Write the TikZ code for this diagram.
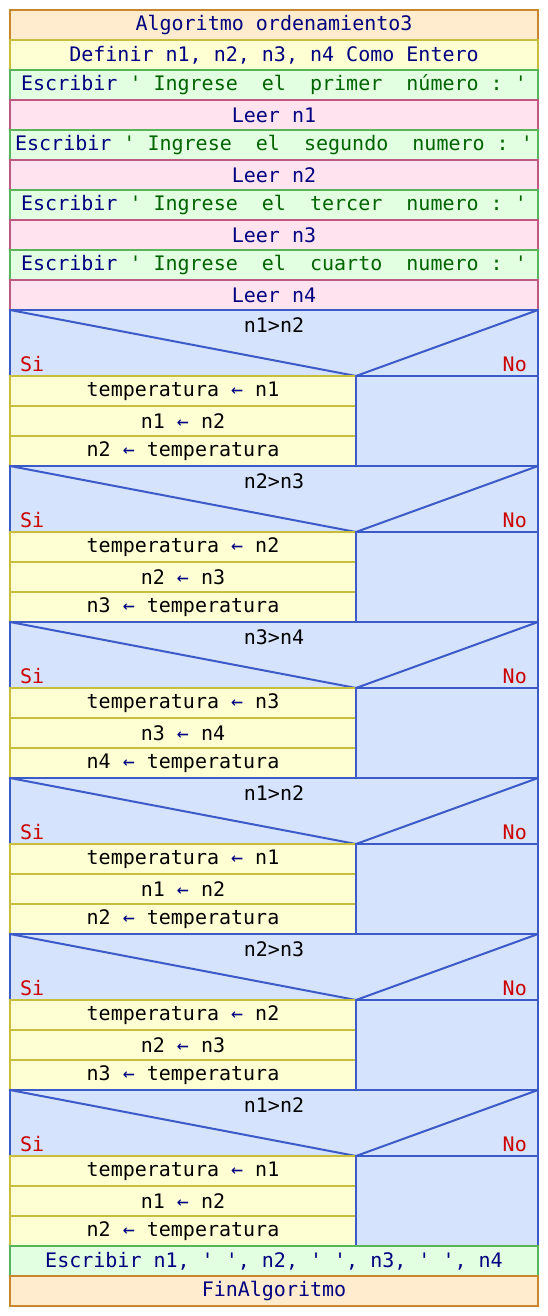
\documentclass[tikz,border=0pt]{standalone}
\usepackage{fontspec}
\setmonofont{DejaVu Sans Mono}
\usetikzlibrary{positioning}

\definecolor{algfill}{RGB}{255,235,205}
\definecolor{algline}{RGB}{200,135,45}
\definecolor{deffill}{RGB}{255,255,212}
\definecolor{defline}{RGB}{200,190,60}
\definecolor{escfill}{RGB}{226,255,226}
\definecolor{escline}{RGB}{90,180,90}
\definecolor{leefill}{RGB}{255,228,240}
\definecolor{leeline}{RGB}{190,90,130}
\definecolor{decfill}{RGB}{213,227,252}
\definecolor{decline}{RGB}{60,90,200}
\definecolor{kwcol}{RGB}{0,0,128}
\definecolor{strcol}{RGB}{0,100,0}
\definecolor{sicol}{RGB}{204,0,0}

\newcommand{\flecha}{{\color{kwcol}←}}
\newcommand{\cad}[1]{{\color{strcol}#1}}

\tikzset{
  row/.style={draw, line width=2pt, minimum width=528pt, minimum height=30pt,
    inner sep=0pt, outer sep=0pt, text=kwcol,
    font=\ttfamily\fontsize{20}{24}\selectfont},
  algbox/.style={row, draw=algline, fill=algfill},
  defbox/.style={row, draw=defline, fill=deffill},
  escbox/.style={row, draw=escline, fill=escfill},
  leebox/.style={row, draw=leeline, fill=leefill},
  asigbox/.style={row, draw=defline, fill=deffill, minimum width=346pt, text=black},
  decbox/.style={draw=decline, line width=2pt, minimum width=528pt, minimum height=66pt,
    inner sep=0pt, outer sep=0pt},
  decedge/.style={draw=decline, line width=2pt},
  condtext/.style={font=\ttfamily\fontsize{20}{24}\selectfont, text=black, inner sep=0pt},
  ramatext/.style={font=\ttfamily\fontsize{20}{24}\selectfont, text=sicol, inner sep=0pt}
}

\begin{document}
\begin{tikzpicture}[x=1pt, y=-1pt]
  \useasboundingbox (0,0) rectangle (548,1316);

  % Inicio y lectura de datos
  \node[algbox, anchor=north] (inicio) at (274,10) {Algoritmo ordenamiento3};
  \node[defbox, below=0pt of inicio] (definir) {Definir n1, n2, n3, n4 Como Entero};
  \node[escbox, below=0pt of definir] (esc1) {Escribir \cad{' Ingrese~~el~~primer~~número : '}};
  \node[leebox, below=0pt of esc1] (leer1) {Leer n1};
  \node[escbox, below=0pt of leer1] (esc2) {Escribir \cad{' Ingrese~~el~~segundo~~numero : '}};
  \node[leebox, below=0pt of esc2] (leer2) {Leer n2};
  \node[escbox, below=0pt of leer2] (esc3) {Escribir \cad{' Ingrese~~el~~tercer~~numero : '}};
  \node[leebox, below=0pt of esc3] (leer3) {Leer n3};
  \node[escbox, below=0pt of leer3] (esc4) {Escribir \cad{' Ingrese~~el~~cuarto~~numero : '}};
  \node[leebox, below=0pt of esc4] (leer4) {Leer n4};

  % Condiciones con intercambio
  \foreach \i/\p/\q in {1/1/2, 2/2/3, 3/3/4, 4/1/2, 5/2/3, 6/1/2} {
    \pgfmathsetmacro{\ytop}{310+156*(\i-1)}
    \node[decbox, fill=decfill, anchor=north west] (dec\i) at (10,\ytop) {};
    \coordinate (apex\i) at (356,\ytop+66);
    \draw[decedge] (dec\i.north west) -- (apex\i) -- (dec\i.north east);
    \node[condtext] (cond\i) at (274,\ytop+15) {n\p>n\q};
    \node[ramatext, anchor=base west] (si\i) at (20,\ytop+61) {Si};
    \node[ramatext, anchor=base east] (no\i) at (527,\ytop+61) {No};
    \node[asigbox, anchor=north west] (sa\i) at (10,\ytop+66) {temperatura \flecha\ n\p};
    \node[asigbox, below=0pt of sa\i] (sb\i) {n\p\ \flecha\ n\q};
    \node[asigbox, below=0pt of sb\i] (sc\i) {n\q\ \flecha\ temperatura};
    \draw[decedge, fill=decfill] (sa\i.north east) rectangle (sc\i.south east -| dec\i.east);
  }

  % Salida y fin
  \node[escbox, anchor=north] (salida) at (274,1246) {Escribir n1, ' ', n2, ' ', n3, ' ', n4};
  \node[algbox, below=0pt of salida] (fin) {FinAlgoritmo};
\end{tikzpicture}
\end{document}
